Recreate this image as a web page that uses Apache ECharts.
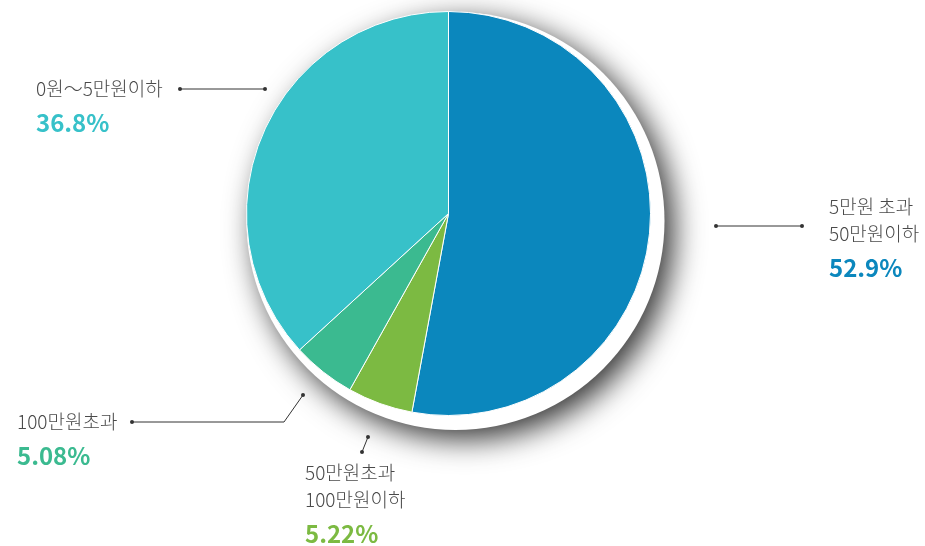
<!DOCTYPE html>
<html>
<head>
<meta charset="utf-8">
<script src="https://cdn.jsdelivr.net/npm/echarts@6/dist/echarts.min.js"></script>
<style>
html,body{margin:0;padding:0;background:#fff;}
#chart{width:925px;height:546px;}
</style>
</head>
<body>
<div id="chart"></div>
<script>
// Data
const categories = ['5만원 초과\n50만원이하', '50만원초과\n100만원이하', '100만원초과', '0원～5만원이하'];
const shares = [52.9, 5.22, 5.08, 36.8];
const shareLabels = ['52.9%', '5.22%', '5.08%', '36.8%'];

// Styles / layout (not data)
const colors = ['#0b87bd', '#7cba42', '#3bba90', '#37c1c9'];
const labelPos = [[829, 193.5], [305, 459.5], [17, 408.5], [36, 75.5]];
const leaderLines = [
  [[716, 226], [802, 226]],
  [[368, 437], [362, 452]],
  [[303, 395], [284, 422], [132, 422]],
  [[265, 89], [180, 89]]
];

const chart = echarts.init(document.getElementById('chart'), null, {renderer: 'canvas'});

const graphics = [];
leaderLines.forEach(pts => {
  graphics.push({type: 'polyline', shape: {points: pts}, style: {stroke: '#333', lineWidth: 1, fill: null}, z: 10});
  [pts[0], pts[pts.length - 1]].forEach(p => {
    graphics.push({type: 'circle', shape: {cx: p[0], cy: p[1], r: 2}, style: {fill: '#333'}, z: 10});
  });
});

const pieData = categories.map((c, i) => ({
  name: c,
  value: shares[i],
  itemStyle: {color: colors[i]},
  label: {
    rich: {
      n: {fontSize: 19, lineHeight: 27, color: '#4a4a4a', fontWeight: 300, fontFamily: 'Noto Sans CJK KR'},
      p: {fontSize: 24, lineHeight: 41, color: colors[i], fontWeight: 'bold', fontFamily: 'Noto Sans CJK KR'}
    }
  }
}));

chart.setOption({
  backgroundColor: '#fff',
  animation: false,
  graphic: graphics,
  series: [
    {
      type: 'pie',
      z: 1,
      silent: true,
      center: [455.5, 221],
      radius: 209,
      label: {show: false},
      labelLine: {show: false},
      itemStyle: {
        color: '#fff',
        shadowBlur: 30,
        shadowColor: 'rgba(0,0,0,0.8)',
        shadowOffsetX: 9,
        shadowOffsetY: 9
      },
      data: [{value: 1}]
    },
    {
      type: 'pie',
      z: 2,
      center: [448.5, 213.5],
      radius: 202,
      startAngle: 90,
      clockwise: true,
      itemStyle: {borderColor: '#fff', borderWidth: 1},
      labelLine: {show: false},
      label: {
        show: true,
        position: 'outside',
        formatter: p => p.name.split('\n').map(s => '{n|' + s + '}').join('\n') + '\n{p|' + shareLabels[p.dataIndex] + '}'
      },
      labelLayout: params => ({
        x: labelPos[params.dataIndex][0],
        y: labelPos[params.dataIndex][1],
        align: 'left',
        verticalAlign: 'top',
        hideOverlap: false,
        moveOverlap: false
      }),
      data: pieData
    }
  ]
});
</script>
</body>
</html>
